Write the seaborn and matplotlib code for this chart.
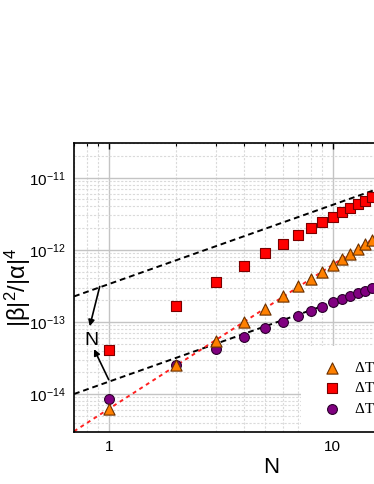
import numpy as np
import pandas as pd
import matplotlib
matplotlib.use("Agg")
import matplotlib.pyplot as plt
import seaborn as sns

# ---- data ----
N = [1, 2, 3, 4, 5, 6, 7, 8, 9, 10, 11, 12, 13, 14, 15]
tri_vals = [6.2e-15, 2.49e-14, 5.5e-14, 1.0e-13, 1.53e-13, 2.26e-13, 3.1e-13, 3.97e-13,
            5.0e-13, 6.2e-13, 7.4e-13, 8.7e-13, 1.03e-12, 1.2e-12, 1.38e-12]
sq_vals = [4.1e-14, 1.64e-13, 3.53e-13, 6.0e-13, 9.0e-13, 1.22e-12, 1.61e-12, 2.0e-12,
           2.44e-12, 2.89e-12, 3.35e-12, 3.81e-12, 4.33e-12, 4.8e-12, 5.35e-12]
circ_vals = [8.5e-15, 2.49e-14, 4.27e-14, 6.1e-14, 8.1e-14, 1.0e-13, 1.22e-13, 1.40e-13,
             1.63e-13, 1.87e-13, 2.08e-13, 2.29e-13, 2.51e-13, 2.71e-13, 2.92e-13]
labels = ["\u0394T = 1 mK", "\u0394T = 10 mK", "\u0394T = 100 mK"]

# guide lines: amplitude at N=1 and power-law exponent
line_x = [0.7, 40]
upper_amp, upper_exp = 3.34e-13, 1.1
lower_amp, lower_exp = 1.48e-14, 1.1
red_amp, red_exp = 6.2e-15, 2.0

sns.set_theme(style="white")
plt.rcParams['font.family'] = ['Liberation Sans', 'DejaVu Sans']
plt.rcParams['mathtext.fontset'] = 'custom'
plt.rcParams['mathtext.rm'] = 'Liberation Sans'
plt.rcParams['mathtext.it'] = 'Liberation Sans'
plt.rcParams['mathtext.bf'] = 'Liberation Sans:bold'
for k in ['text.color', 'axes.labelcolor', 'xtick.color', 'ytick.color']:
    plt.rcParams[k] = 'black'

fig = plt.figure(figsize=(3.74, 4.84), dpi=100)
ax = fig.add_axes([74/374, 1-431.7/484, 393.6/374, 288.4/484])
ax.set_xscale('log')
ax.set_yscale('log')
ax.set_xlim(0.7, 40)
ax.set_ylim(3e-15, 3e-11)

# grid
ax.grid(which='major', color='#c4c4c4', lw=1.0, ls='-')
ax.grid(which='minor', color='#dadada', lw=0.8, ls=(0, (2, 1.5)))
ax.set_axisbelow(True)

lx = np.array(line_x, dtype=float)
dash = (0, (3, 2))
ax.plot(lx, upper_amp * lx**upper_exp, color='black', lw=1.4, ls=dash, zorder=2)
ax.plot(lx, lower_amp * lx**lower_exp, color='black', lw=1.4, ls=dash, zorder=2)
ax.plot(lx, red_amp * lx**red_exp, color='#ff2020', lw=1.4, ls=(0, (2, 2)), zorder=2)

df_c = pd.DataFrame({'N': N, 'v': circ_vals})
df_s = pd.DataFrame({'N': N, 'v': sq_vals})
df_t = pd.DataFrame({'N': N, 'v': tri_vals})
sns.scatterplot(data=df_c, x='N', y='v', marker='o', s=50, color='#800080',
                edgecolor='#2a002a', linewidth=0.8, ax=ax, zorder=3, label=labels[2])
sns.scatterplot(data=df_s, x='N', y='v', marker='s', s=44, color='#ff0000',
                edgecolor='#7a0000', linewidth=0.8, ax=ax, zorder=3, label=labels[1])
sns.scatterplot(data=df_t, x='N', y='v', marker='^', s=65, color='#ff8000',
                edgecolor='#6a3000', linewidth=0.8, ax=ax, zorder=4, label=labels[0])

# arrows + "N"
ax.text(0.837, 5.6e-14, "N", fontsize=14, ha='center', va='center', zorder=5)
ax.annotate("", xy=(0.823, 8.7e-14), xytext=(0.912, 3.1e-13),
            arrowprops=dict(arrowstyle='-|>', color='black', lw=1.2, mutation_scale=9,
                            shrinkA=0, shrinkB=0), zorder=5)
ax.annotate("", xy=(0.86, 4.19e-14), xytext=(1.0, 1.58e-14),
            arrowprops=dict(arrowstyle='-|>', color='black', lw=1.2, mutation_scale=9,
                            shrinkA=0, shrinkB=0), zorder=5)

# ticks / spines
for sp in ax.spines.values():
    sp.set_color('black')
    sp.set_linewidth(1.2)
ax.tick_params(which='both', direction='in', top=True, right=True, color='black')
ax.tick_params(which='major', length=4.5, width=1.0, labelsize=11, pad=6)
ax.tick_params(which='minor', length=2.5, width=0.8)
ax.set_xticks([1, 10])
ax.set_xticklabels(["1", "10"])

ax.set_xlabel("N", fontsize=16, labelpad=2)
ax.set_ylabel(r"$|\beta|^2/|\alpha|^4$", fontsize=17)
ax.yaxis.set_label_coords((33-74)/393.6, 0.5)

# legend (order: triangle, square, circle)
h, l = ax.get_legend_handles_labels()
order = [l.index(labels[0]), l.index(labels[1]), l.index(labels[2])]
leg = ax.legend([h[i] for i in order], [l[i] for i in order],
                loc='lower left', bbox_to_anchor=(301/374, 1-431/484),
                bbox_transform=fig.transFigure, frameon=True, fancybox=False,
                framealpha=1, facecolor='white', edgecolor='none',
                prop={'family': 'Liberation Serif', 'size': 11},
                borderpad=1.0, handlelength=2.0, handletextpad=0.55,
                labelspacing=0.45, borderaxespad=0)
leg.set_zorder(6)

fig.savefig("out.png", dpi=100)
